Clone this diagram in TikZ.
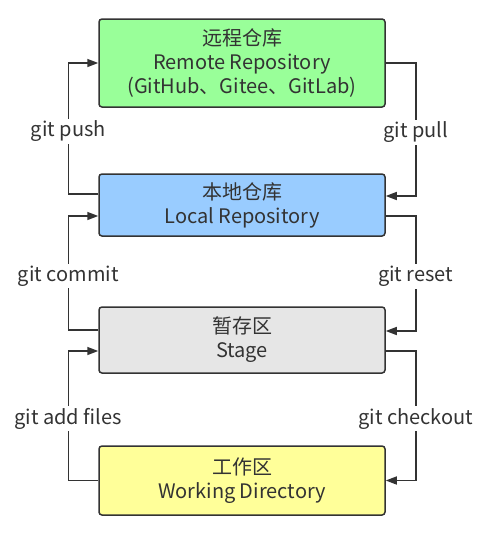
\documentclass[tikz,border=0pt]{standalone}
\usepackage{fontspec}
\setmainfont{Noto Sans CJK SC}
\usetikzlibrary{arrows.meta}
\definecolor{ink}{HTML}{333333}
\definecolor{cgreen}{HTML}{99FF99}
\definecolor{cblue}{HTML}{99CCFF}
\definecolor{cgray}{HTML}{E6E6E6}
\definecolor{cyellow}{HTML}{FFFF99}
\tikzset{
  box/.style={draw=ink, line width=1.5pt, rounded corners=3pt, minimum width=286pt,
    align=center, text=ink, inner sep=0pt, font=\fontsize{20}{24}\selectfont},
  conn/.style={draw=ink, line width=1.5pt, -{Triangle[length=11pt,width=8pt]}},
  lbl/.style={fill=white, text=ink, inner sep=2pt, yshift=-3pt, font=\fontsize{20}{22}\selectfont}
}
\begin{document}
\begin{tikzpicture}[x=1pt,y=1pt]
\useasboundingbox (0,0) rectangle (496,-549);
\node[box, fill=cgreen, minimum height=88pt] (remote) at (242,-63) {远程仓库\\Remote Repository\\(GitHub、Gitee、GitLab)};
\node[box, fill=cblue, minimum height=62pt] (local) at (242,-205) {本地仓库\\Local Repository};
\node[box, fill=cgray, minimum height=66pt] (stage) at (242,-340) {暂存区\\Stage};
\node[box, fill=cyellow, minimum height=69pt] (work) at (242,-480.5) {工作区\\Working Directory};
\draw[conn] ([yshift=11pt]local.west) -- ++(-30,0) |- node[lbl, pos=0.25] {git push} (remote.west);
\draw[conn] (remote.east) -- ++(30,0) |- node[lbl, pos=0.25] {git pull} ([yshift=9pt]local.east);
\draw[conn] ([yshift=10pt]stage.west) -- ++(-30,0) |- node[lbl, pos=0.25] {git commit} ([yshift=-11pt]local.west);
\draw[conn] ([yshift=-11pt]local.east) -- ++(30,0) |- node[lbl, pos=0.25] {git reset} ([yshift=9pt]stage.east);
\draw[conn] (work.west) -- ++(-30,0) |- node[lbl, pos=0.25] {git add files} ([yshift=-11pt]stage.west);
\draw[conn] ([yshift=-11pt]stage.east) -- ++(30,0) |- node[lbl, pos=0.25] {git checkout} (work.east);
\end{tikzpicture}
\end{document}
